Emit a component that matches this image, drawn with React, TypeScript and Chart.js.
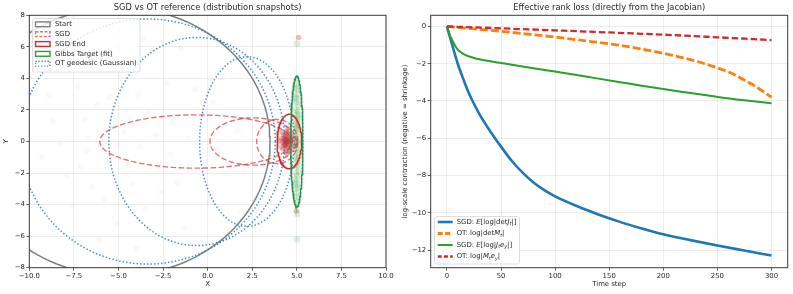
import React, { useEffect, useRef } from 'react';
import { Chart, registerables } from 'chart.js';

Chart.register(...registerables);

const FAMILY = '"DejaVu Sans", sans-serif';
const FS = 6.9;
const TEXT = '#262626';
const GRID = 'rgba(0,0,0,0.09)';
const SPINE = '#3a3a3a';

// ---------------- Left panel data ----------------
const leftTitle = 'SGD vs OT reference (distribution snapshots)';
const leftXTicks = [-10, -7.5, -5, -2.5, 0, 2.5, 5, 7.5, 10];
const leftYTicks = [-8, -6, -4, -2, 0, 2, 4, 6, 8];

// ellipses as [cx, cy, rx, ry]
const startEllipse = [-5, 0, 8.5, 8.5];
const sgdEllipses = [
  [-0.65, 0, 5.4, 1.69],
  [2.55, 0, 2.42, 1.5],
  [3.9, 0, 1.15, 1.4],
];
const sgdEndEllipse = [4.58, 0, 0.69, 1.73];
const gibbsEllipse = [5.0, 0, 0.34, 4.15];
const otEllipses = [
  [-3.35, 0, 7.14, 7.77],
  [-0.61, 0, 4.93, 6.6],
  [2.2, 0, 2.65, 5.38],
  [5.0, 0, 0.34, 4.15],
];

const grayCloud = [
  [-8.7, 1.3], [-7.9, -2.2], [-7.3, 3.5], [-6.8, -0.6], [-6.2, 2.3], [-5.8, -3.7], [-5.3, 0.9], [-4.9, 4.2],
  [-4.4, -1.5], [-3.9, 3.0], [-3.5, -4.3], [-2.9, 0.4], [-2.3, 3.7], [-1.7, -2.6], [-1.0, 1.6], [-0.4, -0.9],
  [0.3, 2.5], [1.0, -2.0], [1.7, 0.7], [-9.3, -1.0], [-8.2, 4.7], [-7.6, -4.1], [-6.5, -2.9], [-6.0, 5.3],
  [-5.1, -5.2], [-4.6, 2.0], [-3.8, -0.3], [-3.1, 5.7], [-2.6, -3.2], [-2.0, 1.2], [-1.3, -5.5], [-0.7, 3.3],
  [0.1, -3.8], [0.8, 4.1], [-6.7, 0.2], [-5.5, 2.8], [-4.2, -2.7], [-3.3, 1.8], [-7.1, -1.6], [-2.1, -0.8],
  [-8.9, 2.9], [-5.0, -0.2], [-1.5, 5.9], [0.5, -0.5], [-6.1, -6.2], [-3.6, 6.5], [-9.6, -3.5], [-4.0, -6.8],
  [-7.8, 6.0], [1.9, -4.5], [-8.3, -0.1], [-6.9, 1.4], [-4.7, 0.6], [-2.7, -1.7], [-1.1, 0.2], [-5.6, -1.3],
];
const redCloud = [
  [4.45, 0.05], [4.35, -0.12], [4.52, 0.18], [4.28, 0.22], [4.6, -0.2], [4.4, 0.35], [4.5, -0.38], [4.2, -0.05],
  [4.65, 0.1], [4.33, -0.3], [4.48, 0.5], [4.25, 0.45], [4.58, -0.55], [4.15, 0.2], [4.7, 0.32], [4.38, -0.6],
  [4.55, 0.68], [4.12, -0.35], [4.75, -0.1], [4.42, -0.15], [4.3, 0.08], [4.47, -0.05], [4.36, 0.15], [4.62, 0.42],
  [4.22, -0.48], [4.8, 0.2], [4.05, 0.05], [4.5, 0.85], [4.44, -0.8], [4.68, -0.4], [4.4, 0.0], [4.55, 0.0],
  [4.32, -0.02], [4.9, -0.3], [4.18, 0.6], [4.43, 0.12], [4.37, -0.22], [4.5, 0.28], [4.27, -0.18], [4.58, 0.08],
  [4.46, -0.28], [4.34, 0.3], [4.63, -0.05], [4.41, 0.6], [4.52, -0.65], [5.1, 6.6], [4.98, -4.4],
];
const greenCloud = [
  [5.0, -3.8], [4.98, -3.3], [5.05, -2.9], [4.93, -2.6], [5.02, -2.2], [5.1, -1.9], [4.95, -1.6], [5.03, -1.3],
  [4.9, -1.0], [5.08, -0.7], [4.97, -0.4], [5.04, -0.1], [4.92, 0.2], [5.06, 0.5], [5.0, 0.8], [4.94, 1.1],
  [5.1, 1.4], [5.01, 1.7], [4.96, 2.0], [5.07, 2.3], [4.99, 2.7], [5.03, 3.0], [4.95, 3.4], [5.0, 3.7],
  [5.05, -3.5], [4.97, -2.0], [5.02, 1.0], [4.98, 2.5], [5.12, -0.9], [4.88, 0.6], [5.0, -1.1], [5.04, 1.9],
  [4.97, -2.4], [5.01, 0.0], [5.0, 6.2], [5.0, -6.2], [5.02, -4.6], [4.96, 0.3], [5.03, -0.5], [4.99, 1.3],
  [5.06, -1.5], [4.94, 2.8], [5.0, -2.7], [5.08, 1.6], [4.92, -0.2], [5.02, 3.3], [4.98, -3.0], [5.05, 0.9],
];

const leftLegendLabels = ['Start', 'SGD', 'SGD End', 'Gibbs Target (fit)', 'OT geodesic (Gaussian)'];

// ---------------- Right panel data ----------------
const rightTitle = 'Effective rank loss (directly from the Jacobian)';
const rightXTicks = [0, 50, 100, 150, 200, 250, 300];
const rightYTicks = [-12, -10, -8, -6, -4, -2, 0];

const sgdDetSteps = [0, 5, 10, 15, 20, 25, 30, 40, 50, 60, 70, 80, 90, 100, 120, 140, 160, 180, 200, 225, 250, 275, 300];
const sgdDetVals = [0, -1.02, -2.0, -2.8, -3.55, -4.15, -4.7, -5.62, -6.45, -7.22, -7.85, -8.38, -8.79, -9.12, -9.64, -10.09, -10.49, -10.84, -11.16, -11.47, -11.76, -12.03, -12.3];

const otDetSteps = [0, 25, 50, 75, 100, 125, 150, 175, 200, 225, 250, 262.5, 275, 287.5, 300];
const otDetVals = [0, -0.13, -0.26, -0.41, -0.57, -0.75, -0.93, -1.16, -1.44, -1.78, -2.22, -2.5, -2.88, -3.3, -3.8];

const sgdEySteps = [0, 2, 5, 10, 15, 20, 25, 30, 40, 50, 60, 80, 100, 120, 140, 160, 180, 200, 225, 250, 275, 300];
const sgdEyVals = [0, -0.35, -0.75, -1.24, -1.47, -1.6, -1.69, -1.76, -1.87, -1.96, -2.05, -2.24, -2.42, -2.6, -2.8, -2.99, -3.18, -3.36, -3.57, -3.78, -3.96, -4.12];

const otEySteps = [0, 50, 100, 150, 200, 250, 300];
const otEyVals = [0, -0.1, -0.21, -0.32, -0.44, -0.58, -0.73];

// rich legend labels (segments: text, italic, subscript)
type Seg = { t: string; i?: boolean; s?: boolean };
const rightLegendLabels: Seg[][] = [
  [{ t: 'SGD: ' }, { t: 'E', i: true }, { t: '[log|det' }, { t: 'J', i: true }, { t: 't', i: true, s: true }, { t: '|]' }],
  [{ t: 'OT: log|det' }, { t: 'M', i: true }, { t: 't', i: true, s: true }, { t: '|' }],
  [{ t: 'SGD: ' }, { t: 'E', i: true }, { t: '[log|' }, { t: 'J', i: true }, { t: 't', i: true, s: true }, { t: 'e', i: true }, { t: 'y', i: true, s: true }, { t: '|]' }],
  [{ t: 'OT: log|' }, { t: 'M', i: true }, { t: 't', i: true, s: true }, { t: 'e', i: true }, { t: 'y', i: true, s: true }, { t: '|' }],
];

// ---------------- helpers ----------------
const C_BLUE = '#1f77b4';
const C_ORANGE = '#ff7f0e';
const C_GREEN = '#2ca02c';
const C_RED = '#d62728';
const C_GRAY = '#7f7f7f';
const C_RED_LIGHT = 'rgba(214,39,40,0.65)';
const C_BLUE_DOT = 'rgba(31,119,180,0.85)';

function ellipsePoints(e: number[], n = 180) {
  const [cx, cy, rx, ry] = e;
  const pts: { x: number; y: number }[] = [];
  for (let k = 0; k <= n; k++) {
    const a = (k / n) * Math.PI * 2;
    pts.push({ x: cx + rx * Math.cos(a), y: cy + ry * Math.sin(a) });
  }
  return pts;
}

const fmt = (v: number, d: number) => (v < 0 ? '\u2212' : '') + Math.abs(v).toFixed(d);

function roundRectPath(ctx: CanvasRenderingContext2D, x: number, y: number, w: number, h: number, r: number) {
  ctx.beginPath();
  ctx.moveTo(x + r, y);
  ctx.lineTo(x + w - r, y);
  ctx.quadraticCurveTo(x + w, y, x + w, y + r);
  ctx.lineTo(x + w, y + h - r);
  ctx.quadraticCurveTo(x + w, y + h, x + w - r, y + h);
  ctx.lineTo(x + r, y + h);
  ctx.quadraticCurveTo(x, y + h, x, y + h - r);
  ctx.lineTo(x, y + r);
  ctx.quadraticCurveTo(x, y, x + r, y);
  ctx.closePath();
}

function drawRich(ctx: CanvasRenderingContext2D, x: number, y: number, segs: Seg[]) {
  let cx = x;
  ctx.textAlign = 'left';
  ctx.textBaseline = 'middle';
  for (const sg of segs) {
    const size = sg.s ? FS * 0.7 : FS;
    ctx.font = `${sg.i ? 'italic ' : ''}${size}px ${FAMILY}`;
    ctx.fillText(sg.t, cx, y + (sg.s ? FS * 0.28 : 0));
    cx += ctx.measureText(sg.t).width;
  }
}

function axisCommon(ticks: number[], dec: number, isX: boolean, size: number) {
  return {
    type: 'linear' as const,
    afterBuildTicks: (s: any) => {
      s.ticks = ticks.map((v) => ({ value: v }));
    },
    afterFit: (s: any) => {
      if (isX) s.height = size;
      else s.width = size;
    },
    grid: { color: GRID, tickColor: SPINE, tickLength: 3, lineWidth: 0.8 },
    border: { display: false },
    ticks: {
      font: { family: FAMILY, size: FS },
      color: TEXT,
      padding: 1.5,
      autoSkip: false,
      maxRotation: 0,
      callback: (v: any) => fmt(Number(v), dec),
    },
  };
}

function decoPlugin(cfg: { title: string; xLabel: string; yLabel: string; yLabelX: number; legend: (ctx: CanvasRenderingContext2D) => void }) {
  return {
    id: 'deco',
    afterDraw(chart: any) {
      const ctx: CanvasRenderingContext2D = chart.ctx;
      const a = chart.chartArea;
      ctx.save();
      ctx.setLineDash([]);
      ctx.strokeStyle = SPINE;
      ctx.lineWidth = 1;
      ctx.strokeRect(a.left, a.top, a.right - a.left, a.bottom - a.top);
      ctx.fillStyle = TEXT;
      ctx.textAlign = 'center';
      ctx.textBaseline = 'middle';
      ctx.font = `8.3px ${FAMILY}`;
      ctx.fillText(cfg.title, (a.left + a.right) / 2, 7.5);
      ctx.font = `${FS}px ${FAMILY}`;
      ctx.fillText(cfg.xLabel, (a.left + a.right) / 2, 284.5);
      ctx.save();
      ctx.translate(cfg.yLabelX, (a.top + a.bottom) / 2);
      ctx.rotate(-Math.PI / 2);
      ctx.fillText(cfg.yLabel, 0, 0);
      ctx.restore();
      cfg.legend(ctx);
      ctx.restore();
    },
  };
}

function drawLeftLegend(ctx: CanvasRenderingContext2D) {
  const styles = [
    { c: C_GRAY, d: [] as number[] },
    { c: C_RED_LIGHT, d: [3, 1.5] },
    { c: C_RED, d: [] as number[] },
    { c: C_GREEN, d: [] as number[] },
    { c: C_BLUE_DOT, d: [1.2, 1.8] },
  ];
  roundRectPath(ctx, 32.5, 18.5, 107.5, 53.5, 2);
  ctx.fillStyle = 'rgba(255,255,255,0.8)';
  ctx.fill();
  ctx.strokeStyle = '#d5d5d5';
  ctx.lineWidth = 0.8;
  ctx.stroke();
  leftLegendLabels.forEach((lab, i) => {
    const cy = 24.3 + i * 9.85;
    ctx.setLineDash(styles[i].d);
    ctx.strokeStyle = styles[i].c;
    ctx.lineWidth = 1.4;
    ctx.strokeRect(35.5, cy - 2.4, 14.5, 4.8);
    ctx.setLineDash([]);
    ctx.fillStyle = TEXT;
    ctx.textAlign = 'left';
    ctx.textBaseline = 'middle';
    ctx.font = `${FS}px ${FAMILY}`;
    ctx.fillText(lab, 55, cy);
  });
}

function drawRightLegend(ctx: CanvasRenderingContext2D) {
  const off = 396;
  const styles = [
    { c: C_BLUE, w: 2.6, d: [] as number[] },
    { c: C_ORANGE, w: 2.8, d: [5, 2.5] },
    { c: C_GREEN, w: 2, d: [] as number[] },
    { c: C_RED, w: 2.3, d: [4, 2.2] },
  ];
  roundRectPath(ctx, 434.5 - off, 216.5, 85, 47.5, 2);
  ctx.fillStyle = 'rgba(255,255,255,0.8)';
  ctx.fill();
  ctx.strokeStyle = '#d5d5d5';
  ctx.lineWidth = 0.8;
  ctx.stroke();
  rightLegendLabels.forEach((segs, i) => {
    const cy = 222 + i * 11.5;
    ctx.setLineDash(styles[i].d);
    ctx.strokeStyle = styles[i].c;
    ctx.lineWidth = styles[i].w;
    ctx.beginPath();
    ctx.moveTo(437.7 - off, cy);
    ctx.lineTo(452.7 - off, cy);
    ctx.stroke();
    ctx.setLineDash([]);
    ctx.fillStyle = TEXT;
    drawRich(ctx, 456.7 - off, cy, segs);
  });
}

function toPts(arr: number[][]) {
  return arr.map(([x, y]) => ({ x, y }));
}
function zipPts(xs: number[], ys: number[]) {
  return xs.map((x, i) => ({ x, y: ys[i] }));
}

export default function App() {
  const leftRef = useRef<HTMLCanvasElement>(null);
  const rightRef = useRef<HTMLCanvasElement>(null);

  useEffect(() => {
    const lineDs = (data: any[], color: string, width: number, dash: number[], order: number, smooth = false) => ({
      type: 'scatter' as const,
      data,
      showLine: true,
      fill: false,
      borderColor: color,
      backgroundColor: color,
      borderWidth: width,
      borderDash: dash,
      pointRadius: 0,
      cubicInterpolationMode: smooth ? 'monotone' : 'default',
      tension: smooth ? 0.4 : 0,
      order,
    });
    const cloudDs = (data: any[], color: string, r: number, order: number) => ({
      type: 'scatter' as const,
      data,
      showLine: false,
      pointRadius: r,
      borderWidth: 0,
      backgroundColor: color,
      order,
    });

    const leftDatasets: any[] = [
      cloudDs(toPts(grayCloud), 'rgba(128,128,128,0.05)', 3, 12),
      cloudDs(toPts(greenCloud), 'rgba(44,160,44,0.17)', 3.4, 11),
      cloudDs(toPts(redCloud), 'rgba(214,39,40,0.32)', 2.7, 10),
      lineDs(ellipsePoints(startEllipse), C_GRAY, 1.5, [], 6),
      ...sgdEllipses.map((e) => lineDs(ellipsePoints(e), C_RED_LIGHT, 1.4, [5.5, 2.5], 5)),
      lineDs(ellipsePoints(sgdEndEllipse), C_RED, 1.5, [], 4),
      lineDs(ellipsePoints(gibbsEllipse), C_GREEN, 1.5, [], 3),
      ...otEllipses.map((e) => lineDs(ellipsePoints(e, 240), C_BLUE_DOT, 1.5, [1.4, 2.1], 1)),
    ];

    const left = new Chart(leftRef.current as HTMLCanvasElement, {
      type: 'scatter',
      data: { datasets: leftDatasets },
      options: {
        responsive: false,
        animation: false,
        events: [],
        layout: { padding: { left: 0, right: 396 - 386, top: 15.3, bottom: 0 } },
        plugins: { legend: { display: false }, tooltip: { enabled: false }, title: { display: false } },
        scales: {
          x: { ...axisCommon(leftXTicks, 1, true, 26.3), min: -10, max: 10 },
          y: { ...axisCommon(leftYTicks, 0, false, 29.3), min: -8, max: 8 },
        },
      } as any,
      plugins: [decoPlugin({ title: leftTitle, xLabel: 'X', yLabel: 'Y', yLabelX: 6.7, legend: drawLeftLegend })],
    });

    const rightDatasets: any[] = [
      lineDs(zipPts(sgdDetSteps, sgdDetVals), C_BLUE, 2.6, [], 4, true),
      lineDs(zipPts(otDetSteps, otDetVals), C_ORANGE, 2.8, [8, 3], 3, true),
      lineDs(zipPts(sgdEySteps, sgdEyVals), C_GREEN, 2, [], 2, true),
      lineDs(zipPts(otEySteps, otEyVals), C_RED, 2.3, [6.5, 3], 1, true),
    ];

    const right = new Chart(rightRef.current as HTMLCanvasElement, {
      type: 'scatter',
      data: { datasets: rightDatasets },
      options: {
        responsive: false,
        animation: false,
        events: [],
        layout: { padding: { left: 0, right: 397 - 391.7, top: 15.3, bottom: 0 } },
        plugins: { legend: { display: false }, tooltip: { enabled: false }, title: { display: false } },
        scales: {
          x: { ...axisCommon(rightXTicks, 0, true, 26.3), min: -15, max: 315 },
          y: { ...axisCommon(rightYTicks, 0, false, 34.7), min: -12.95, max: 0.6 },
        },
      } as any,
      plugins: [
        decoPlugin({
          title: rightTitle,
          xLabel: 'Time step',
          yLabel: 'log-scale contraction (negative = shrinkage)',
          yLabelX: 9,
          legend: drawRightLegend,
        }),
      ],
    });

    return () => {
      left.destroy();
      right.destroy();
    };
  }, []);

  return (
    <div style={{ position: 'absolute', left: 0, top: 0, width: 793, height: 294, background: '#fff', overflow: 'hidden' }}>
      <canvas ref={leftRef} width={396} height={294} style={{ position: 'absolute', left: 0, top: 0, width: 396, height: 294 }} />
      <canvas ref={rightRef} width={397} height={294} style={{ position: 'absolute', left: 396, top: 0, width: 397, height: 294 }} />
    </div>
  );
}
